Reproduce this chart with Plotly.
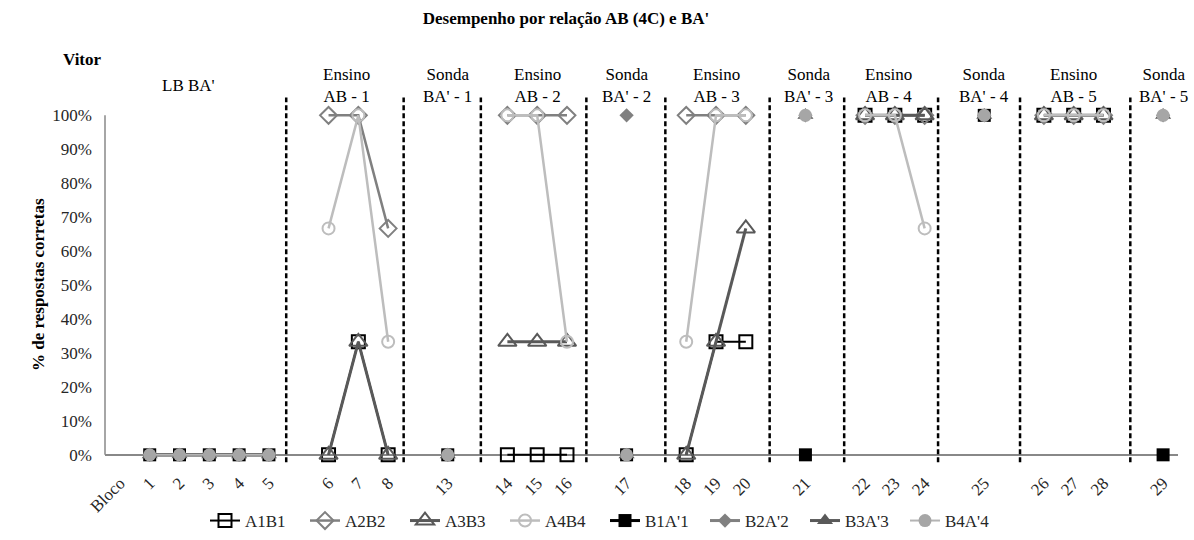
import plotly.graph_objects as go

N = None
categories = ["Bloco", "1", "2", "3", "4", "5", "", "6", "7", "8", "", "13", "", "14", "15", "16", "",
              "17", "", "18", "19", "20", "", "21", "", "22", "23", "24", "", "25", "", "26", "27", "28", "", "29"]

# values (%) aligned with categories
A1B1 = [N, N, N, N, N, N, N, 0, 33.3, 0, N, N, N, 0, 0, 0, N, N, N, 0, 33.3, 33.3, N, N, N,
        100, 100, 100, N, N, N, 100, 100, 100, N, N]
A2B2 = [N, N, N, N, N, N, N, 100, 100, 66.7, N, N, N, 100, 100, 100, N, N, N, 100, 100, 100, N, N, N,
        100, 100, 100, N, N, N, 100, 100, 100, N, N]
A3B3 = [N, N, N, N, N, N, N, 0, 33.3, 0, N, N, N, 33.3, 33.3, 33.3, N, N, N, 0, 33.3, 66.7, N, N, N,
        100, 100, 100, N, N, N, 100, 100, 100, N, N]
A4B4 = [N, N, N, N, N, N, N, 66.7, 100, 33.3, N, N, N, 100, 100, 33.3, N, N, N, 33.3, 100, 100, N, N, N,
        100, 100, 66.7, N, N, N, 100, 100, 100, N, N]
B1A1 = [N, 0, 0, 0, 0, 0, N, N, N, N, N, 0, N, N, N, N, N, 0, N, N, N, N, N, 0, N,
        N, N, N, N, 100, N, N, N, N, N, 0]
B2A2 = [N, 0, 0, 0, 0, 0, N, N, N, N, N, 0, N, N, N, N, N, 100, N, N, N, N, N, 100, N,
        N, N, N, N, 100, N, N, N, N, N, 100]
B3A3 = [N, 0, 0, 0, 0, 0, N, N, N, N, N, 0, N, N, N, N, N, 0, N, N, N, N, N, 100, N,
        N, N, N, N, 100, N, N, N, N, N, 100]
B4A4 = [N, 0, 0, 0, 0, 0, N, N, N, N, N, 0, N, N, N, N, N, 0, N, N, N, N, N, 100, N,
        N, N, N, N, 100, N, N, N, N, N, 100]

y_ticks = [0, 10, 20, 30, 40, 50, 60, 70, 80, 90, 100]
y_ticktext = [f"{v}%" for v in y_ticks]

phase_labels = ["LB BA'", "Ensino<br>AB - 1", "Sonda<br>BA' - 1", "Ensino<br>AB - 2", "Sonda<br>BA' - 2",
                "Ensino<br>AB - 3", "Sonda<br>BA' - 3", "Ensino<br>AB - 4", "Sonda<br>BA' - 4",
                "Ensino<br>AB - 5", "Sonda<br>BA' - 5"]
phase_label_x = [2.3, 7.6, 11, 14, 17, 20, 23.1, 25.8, 29, 32, 35]
separator_x = [5.58, 9.52, 12.11, 15.65, 18.3, 21.8, 24.3, 27.45, 30.2, 33.9]

x = list(range(len(categories)))
FONT = "Liberation Serif, Times New Roman, serif"

series = [
    ("A1B1", A1B1, dict(symbol="square-open", size=13, color="#000000", line=dict(width=2, color="#000000")),
     dict(color="#000000", width=2)),
    ("A2B2", A2B2, dict(symbol="diamond-open", size=13, color="#808080", line=dict(width=2, color="#808080")),
     dict(color="#808080", width=2.5)),
    ("A3B3", A3B3, dict(symbol="triangle-up-open", size=16, color="#595959", line=dict(width=2, color="#595959")),
     dict(color="#595959", width=3)),
    ("A4B4", A4B4, dict(symbol="circle-open", size=12, color="#BDBDBD", line=dict(width=2, color="#BDBDBD")),
     dict(color="#BDBDBD", width=2.5)),
    ("B1A'1", B1A1, dict(symbol="square", size=13, color="#000000"), dict(color="#000000", width=3)),
    ("B2A'2", B2A2, dict(symbol="diamond", size=11, color="#808080"), dict(color="#808080", width=3)),
    ("B3A'3", B3A3, dict(symbol="triangle-up", size=14, color="#595959"), dict(color="#595959", width=3)),
    ("B4A'4", B4A4, dict(symbol="circle", size=13, color="#A6A6A6"), dict(color="#B4B4B4", width=2)),
]

fig = go.Figure()
for name, vals, marker, line in series:
    fig.add_trace(go.Scatter(x=x, y=vals, name=name, mode="lines+markers", marker=marker, line=line,
                             connectgaps=False, cliponaxis=False))

# plot geometry (pixels)
W, H = 1194, 540
ML, MR, MT, MB = 105, 16, 95, 75
plot_h = H - MT - MB
plot_w = W - ML - MR


def px_y(py):
    return (H - MB - py) / plot_h


def px_x(px):
    return (px - ML) / plot_w


shapes = []
for sx in separator_x:
    shapes.append(dict(type="line", xref="x", yref="y", x0=sx, x1=sx, y0=-2.2, y1=105.3,
                       line=dict(color="#000000", width=2.5, dash="5px,3px"), layer="above"))
shapes.append(dict(type="line", xref="paper", yref="y", x0=0, x1=0, y0=0, y1=100,
                   line=dict(color="#888888", width=1.5), layer="below"))

annotations = []
for lab, lx in zip(phase_labels, phase_label_x):
    annotations.append(dict(text=lab, x=lx, xref="x", y=px_y(85), yref="paper", showarrow=False,
                            font=dict(family=FONT, size=17, color="#000000"), yanchor="middle",
                            xanchor="center", align="center"))
annotations.append(dict(text="<b>Vitor</b>", x=px_x(82), xref="paper", y=px_y(59), yref="paper",
                        showarrow=False, font=dict(family=FONT, size=17, color="#000000"),
                        xanchor="center", yanchor="middle"))
annotations.append(dict(text="<b>% de respostas corretas</b>", x=px_x(38), xref="paper", y=px_y(285),
                        yref="paper", showarrow=False, textangle=-90,
                        font=dict(family=FONT, size=17, color="#000000"), xanchor="center",
                        yanchor="middle"))

fig.update_layout(
    width=W, height=H,
    margin=dict(l=ML, r=MR, t=MT, b=MB),
    paper_bgcolor="white", plot_bgcolor="white",
    font=dict(family=FONT, size=17, color="#262626"),
    title=dict(text="<b>Desempenho por relação AB (4C) e BA'</b>", x=566 / W, xref="container",
               y=1 - 18 / H, yref="container", xanchor="center", yanchor="middle",
               font=dict(family=FONT, size=17, color="#000000")),
    xaxis=dict(range=[-0.5, len(categories) - 0.5], tickmode="array", tickvals=x, ticktext=categories,
               tickangle=-45, showgrid=False, zeroline=False, showline=False, ticks="",
               ticklabelstandoff=4, automargin=False,
               tickfont=dict(family=FONT, size=17, color="#262626")),
    yaxis=dict(range=[-3, 106], tickmode="array", tickvals=y_ticks, ticktext=y_ticktext,
               showgrid=False, zeroline=True, zerolinecolor="#888888", zerolinewidth=1.5,
               showline=False, ticks="", ticklabelstandoff=12, automargin=False,
               tickfont=dict(family=FONT, size=17, color="#262626")),
    legend=dict(orientation="h", xref="container", x=205 / W, xanchor="left",
                yref="container", y=1 - 521 / H, yanchor="middle",
                font=dict(family=FONT, size=17, color="#262626"), entrywidth=55, traceorder="normal"),
    shapes=shapes,
    annotations=annotations,
)

fig.write_html("out.html")
